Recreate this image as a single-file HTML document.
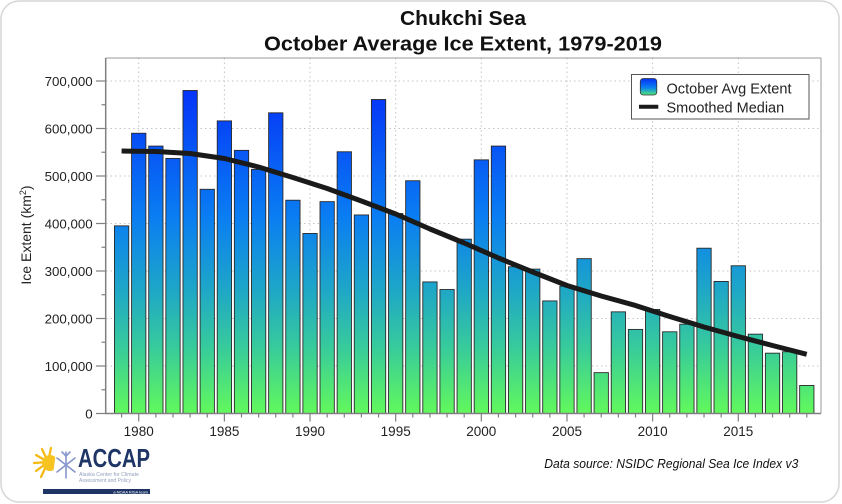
<!DOCTYPE html>
<html><head><meta charset="utf-8"><style>
html,body{margin:0;padding:0;background:#fff;}
svg{display:block;}
text{font-family:"Liberation Sans",Arial,sans-serif;}
</style></head><body>
<svg width="842" height="504" viewBox="0 0 842 504" xmlns="http://www.w3.org/2000/svg">
<defs>
<linearGradient id="bg" gradientUnits="userSpaceOnUse" x1="0" y1="58" x2="0" y2="413">
<stop offset="0" stop-color="#0020ff"/>
<stop offset="0.1" stop-color="#0535f8"/>
<stop offset="0.45" stop-color="#0a7ef2"/>
<stop offset="0.65" stop-color="#1ea6c8"/>
<stop offset="0.82" stop-color="#38cc9a"/>
<stop offset="1" stop-color="#62f85c"/>
</linearGradient>
<linearGradient id="lg" x1="0" y1="0" x2="0" y2="1">
<stop offset="0" stop-color="#0530f5"/>
<stop offset="0.55" stop-color="#0a80f0"/>
<stop offset="1" stop-color="#50e878"/>
</linearGradient>
</defs>
<rect x="1" y="1" width="838" height="501" rx="18" fill="#fff" stroke="#d6d6d6" stroke-width="1.5"/>

<!-- Title -->
<text x="463" y="25" text-anchor="middle" font-size="20" font-weight="bold" fill="#111" textLength="126" lengthAdjust="spacingAndGlyphs">Chukchi Sea</text>
<text x="463" y="50.5" text-anchor="middle" font-size="20" font-weight="bold" fill="#111" textLength="398" lengthAdjust="spacingAndGlyphs">October Average Ice Extent, 1979-2019</text>

<!-- grid -->
<g stroke="#c4c4c4" stroke-width="1" stroke-dasharray="1.5,3">
<line x1="106" y1="81" x2="821" y2="81"/>
<line x1="106" y1="128.5" x2="821" y2="128.5"/>
<line x1="106" y1="176" x2="821" y2="176"/>
<line x1="106" y1="223.5" x2="821" y2="223.5"/>
<line x1="106" y1="271" x2="821" y2="271"/>
<line x1="106" y1="318.5" x2="821" y2="318.5"/>
<line x1="106" y1="366" x2="821" y2="366"/>
<line x1="138.7" y1="58" x2="138.7" y2="413"/>
<line x1="224.4" y1="58" x2="224.4" y2="413"/>
<line x1="310" y1="58" x2="310" y2="413"/>
<line x1="395.7" y1="58" x2="395.7" y2="413"/>
<line x1="481.3" y1="58" x2="481.3" y2="413"/>
<line x1="567" y1="58" x2="567" y2="413"/>
<line x1="652.6" y1="58" x2="652.6" y2="413"/>
<line x1="738.3" y1="58" x2="738.3" y2="413"/>
</g>

<!-- bars -->
<g fill="url(#bg)" stroke="#2a2a2a" stroke-width="0.9">
<rect x="114.45" y="225.87" width="14.3" height="187.63"/>
<rect x="131.58" y="133.25" width="14.3" height="280.25"/>
<rect x="148.71" y="146.07" width="14.3" height="267.43"/>
<rect x="165.84" y="158.42" width="14.3" height="255.08"/>
<rect x="182.97" y="90.5" width="14.3" height="323"/>
<rect x="200.10" y="189.3" width="14.3" height="224.2"/>
<rect x="217.23" y="120.9" width="14.3" height="292.6"/>
<rect x="234.36" y="150.35" width="14.3" height="263.15"/>
<rect x="251.49" y="169.35" width="14.3" height="244.15"/>
<rect x="268.62" y="112.82" width="14.3" height="300.68"/>
<rect x="285.75" y="200.22" width="14.3" height="213.28"/>
<rect x="302.88" y="233.47" width="14.3" height="180.03"/>
<rect x="320.01" y="201.65" width="14.3" height="211.85"/>
<rect x="337.14" y="151.77" width="14.3" height="261.73"/>
<rect x="354.27" y="214.95" width="14.3" height="198.55"/>
<rect x="371.40" y="99.52" width="14.3" height="313.98"/>
<rect x="388.53" y="213.52" width="14.3" height="199.98"/>
<rect x="405.66" y="180.75" width="14.3" height="232.75"/>
<rect x="422.79" y="281.92" width="14.3" height="131.58"/>
<rect x="439.92" y="289.52" width="14.3" height="123.98"/>
<rect x="457.05" y="239.17" width="14.3" height="174.33"/>
<rect x="474.18" y="159.85" width="14.3" height="253.65"/>
<rect x="491.31" y="146.07" width="14.3" height="267.43"/>
<rect x="508.44" y="266.72" width="14.3" height="146.78"/>
<rect x="525.57" y="269.1" width="14.3" height="144.4"/>
<rect x="542.70" y="300.92" width="14.3" height="112.58"/>
<rect x="559.83" y="286.2" width="14.3" height="127.3"/>
<rect x="576.96" y="258.65" width="14.3" height="154.85"/>
<rect x="594.09" y="372.65" width="14.3" height="40.85"/>
<rect x="611.22" y="311.85" width="14.3" height="101.65"/>
<rect x="628.35" y="329.42" width="14.3" height="84.08"/>
<rect x="645.48" y="309.47" width="14.3" height="104.03"/>
<rect x="662.61" y="331.8" width="14.3" height="81.7"/>
<rect x="679.74" y="324.2" width="14.3" height="89.3"/>
<rect x="696.87" y="248.2" width="14.3" height="165.3"/>
<rect x="714.00" y="281.45" width="14.3" height="132.05"/>
<rect x="731.13" y="265.77" width="14.3" height="147.73"/>
<rect x="748.26" y="334.17" width="14.3" height="79.33"/>
<rect x="765.39" y="353.17" width="14.3" height="60.33"/>
<rect x="782.52" y="351.75" width="14.3" height="61.75"/>
<rect x="799.65" y="385.47" width="14.3" height="28.03"/>
</g>

<!-- smoothed median -->
<polyline fill="none" stroke="#1a1a1a" stroke-width="5" stroke-linejoin="round" points="121.6,151 155.9,151.5 190.1,153.5 224.4,158.5 258.6,167 292.9,177.5 327.2,188.5 361.4,201 395.7,214 430,229 464.2,243 498.5,258 532.7,272 567,285.5 601.2,296 635.5,305.5 669.7,316.5 704,327 738.2,336.5 772.5,345.5 806.7,354.3"/>

<!-- frame -->
<line x1="106" y1="58" x2="821" y2="58" stroke="#9a9a9a" stroke-width="1"/>
<line x1="821" y1="58" x2="821" y2="413.5" stroke="#9a9a9a" stroke-width="1"/>
<line x1="105.7" y1="58" x2="105.7" y2="414" stroke="#808080" stroke-width="1.5"/>
<line x1="105" y1="413.5" x2="821" y2="413.5" stroke="#808080" stroke-width="1.5"/>

<!-- y ticks -->
<g stroke="#808080" stroke-width="1.2">
<line x1="96" y1="81" x2="105" y2="81"/>
<line x1="96" y1="128.5" x2="105" y2="128.5"/>
<line x1="96" y1="176" x2="105" y2="176"/>
<line x1="96" y1="223.5" x2="105" y2="223.5"/>
<line x1="96" y1="271" x2="105" y2="271"/>
<line x1="96" y1="318.5" x2="105" y2="318.5"/>
<line x1="96" y1="366" x2="105" y2="366"/>
<line x1="96" y1="413.5" x2="105" y2="413.5"/>
<line x1="101.5" y1="104.75" x2="105" y2="104.75"/>
<line x1="101.5" y1="152.25" x2="105" y2="152.25"/>
<line x1="101.5" y1="199.75" x2="105" y2="199.75"/>
<line x1="101.5" y1="247.25" x2="105" y2="247.25"/>
<line x1="101.5" y1="294.75" x2="105" y2="294.75"/>
<line x1="101.5" y1="342.25" x2="105" y2="342.25"/>
<line x1="101.5" y1="389.75" x2="105" y2="389.75"/>
</g>
<g font-size="13.3" fill="#222" text-anchor="end">
<text x="92.7" y="85.8">700,000</text>
<text x="92.7" y="133.3">600,000</text>
<text x="92.7" y="180.8">500,000</text>
<text x="92.7" y="228.3">400,000</text>
<text x="92.7" y="275.8">300,000</text>
<text x="92.7" y="323.3">200,000</text>
<text x="92.7" y="370.8">100,000</text>
<text x="92.7" y="418.3">0</text>
</g>

<!-- x ticks -->
<g stroke="#808080" stroke-width="1.2">
<line x1="121.6" y1="413.5" x2="121.6" y2="417.5"/>
<line x1="138.73" y1="413.5" x2="138.73" y2="421.5"/>
<line x1="155.86" y1="413.5" x2="155.86" y2="417.5"/>
<line x1="172.99" y1="413.5" x2="172.99" y2="417.5"/>
<line x1="190.12" y1="413.5" x2="190.12" y2="417.5"/>
<line x1="207.25" y1="413.5" x2="207.25" y2="417.5"/>
<line x1="224.38" y1="413.5" x2="224.38" y2="421.5"/>
<line x1="241.51" y1="413.5" x2="241.51" y2="417.5"/>
<line x1="258.64" y1="413.5" x2="258.64" y2="417.5"/>
<line x1="275.77" y1="413.5" x2="275.77" y2="417.5"/>
<line x1="292.90" y1="413.5" x2="292.90" y2="417.5"/>
<line x1="310.03" y1="413.5" x2="310.03" y2="421.5"/>
<line x1="327.16" y1="413.5" x2="327.16" y2="417.5"/>
<line x1="344.29" y1="413.5" x2="344.29" y2="417.5"/>
<line x1="361.42" y1="413.5" x2="361.42" y2="417.5"/>
<line x1="378.55" y1="413.5" x2="378.55" y2="417.5"/>
<line x1="395.68" y1="413.5" x2="395.68" y2="421.5"/>
<line x1="412.81" y1="413.5" x2="412.81" y2="417.5"/>
<line x1="429.94" y1="413.5" x2="429.94" y2="417.5"/>
<line x1="447.07" y1="413.5" x2="447.07" y2="417.5"/>
<line x1="464.20" y1="413.5" x2="464.20" y2="417.5"/>
<line x1="481.33" y1="413.5" x2="481.33" y2="421.5"/>
<line x1="498.46" y1="413.5" x2="498.46" y2="417.5"/>
<line x1="515.59" y1="413.5" x2="515.59" y2="417.5"/>
<line x1="532.72" y1="413.5" x2="532.72" y2="417.5"/>
<line x1="549.85" y1="413.5" x2="549.85" y2="417.5"/>
<line x1="566.98" y1="413.5" x2="566.98" y2="421.5"/>
<line x1="584.11" y1="413.5" x2="584.11" y2="417.5"/>
<line x1="601.24" y1="413.5" x2="601.24" y2="417.5"/>
<line x1="618.37" y1="413.5" x2="618.37" y2="417.5"/>
<line x1="635.50" y1="413.5" x2="635.50" y2="417.5"/>
<line x1="652.63" y1="413.5" x2="652.63" y2="421.5"/>
<line x1="669.76" y1="413.5" x2="669.76" y2="417.5"/>
<line x1="686.89" y1="413.5" x2="686.89" y2="417.5"/>
<line x1="704.02" y1="413.5" x2="704.02" y2="417.5"/>
<line x1="721.15" y1="413.5" x2="721.15" y2="417.5"/>
<line x1="738.28" y1="413.5" x2="738.28" y2="421.5"/>
<line x1="755.41" y1="413.5" x2="755.41" y2="417.5"/>
<line x1="772.54" y1="413.5" x2="772.54" y2="417.5"/>
<line x1="789.67" y1="413.5" x2="789.67" y2="417.5"/>
<line x1="806.80" y1="413.5" x2="806.80" y2="417.5"/>
</g>
<g font-size="13.5" fill="#222" text-anchor="middle">
<text x="138.7" y="436">1980</text>
<text x="224.4" y="436">1985</text>
<text x="310" y="436">1990</text>
<text x="395.7" y="436">1995</text>
<text x="481.3" y="436">2000</text>
<text x="567" y="436">2005</text>
<text x="652.6" y="436">2010</text>
<text x="738.3" y="436">2015</text>
</g>

<!-- y axis title -->
<text transform="translate(31,235) rotate(-90)" text-anchor="middle" font-size="14" fill="#222">Ice Extent (km<tspan font-size="9" dy="-5">2</tspan><tspan dy="5">)</tspan></text>

<!-- legend -->
<rect x="631.5" y="74.5" width="177.5" height="44.5" fill="#fff" stroke="#555" stroke-width="1"/>
<rect x="640.3" y="78.5" width="16.5" height="16.5" rx="3" fill="url(#lg)" stroke="#333" stroke-width="0.8"/>
<line x1="639" y1="106.7" x2="658.3" y2="106.7" stroke="#1a1a1a" stroke-width="4"/>
<text x="666.5" y="93.3" font-size="14.5" fill="#222" textLength="125" lengthAdjust="spacingAndGlyphs">October Avg Extent</text>
<text x="666.5" y="112.4" font-size="14.5" fill="#222">Smoothed Median</text>

<!-- data source -->
<text x="544.3" y="468" font-size="13" font-style="italic" fill="#111" textLength="254" lengthAdjust="spacingAndGlyphs">Data source: NSIDC Regional Sea Ice Index v3</text>

<!-- ACCAP logo -->
<g>
<g stroke="#f5b811" stroke-width="2.2" stroke-linecap="round">
<line x1="48" y1="462" x2="36" y2="455"/>
<line x1="48" y1="462" x2="34" y2="463"/>
<line x1="48" y1="462" x2="36" y2="471"/>
<line x1="48" y1="462" x2="42" y2="449"/>
<line x1="48" y1="462" x2="51" y2="448"/>
<line x1="48" y1="462" x2="41" y2="477"/>
</g>
<circle cx="50" cy="463" r="8" fill="#f7c320"/>
<polygon points="56,452 62,446 58,480 52,482" fill="#fff"/>
<g stroke="#8796cc" stroke-width="1.6" stroke-linecap="round">
<line x1="66" y1="452" x2="66" y2="478"/>
<line x1="57" y1="458" x2="75" y2="472"/>
<line x1="57" y1="472" x2="75" y2="458"/>
<line x1="62" y1="452" x2="66" y2="456"/>
<line x1="70" y1="452" x2="66" y2="456"/>
</g>
<text x="78" y="467" font-size="26" font-weight="bold" fill="#1e3566" textLength="72" lengthAdjust="spacingAndGlyphs">ACCAP</text>
<text x="79" y="476" font-size="5.5" fill="#93a0bd" textLength="60" lengthAdjust="spacingAndGlyphs">Alaska Center for Climate</text>
<text x="79" y="482" font-size="5.5" fill="#93a0bd" textLength="52" lengthAdjust="spacingAndGlyphs">Assessment and Policy</text>
<rect x="43" y="489" width="107" height="5" fill="#1e3566"/>
<text x="148" y="493.3" font-size="4" fill="#fff" text-anchor="end">a NOAA RISA team</text>
</g>
</svg>
</body></html>
